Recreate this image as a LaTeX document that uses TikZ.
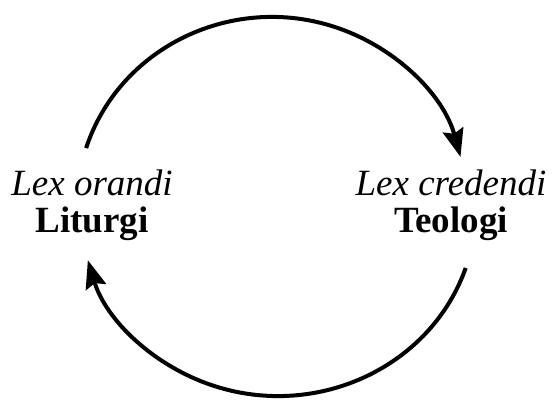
\documentclass[tikz,border=0pt]{standalone}
\usepackage{fontspec}
\setmainfont{Liberation Serif}
\usetikzlibrary{arrows.meta}
\tikzset{
  lbl/.style={align=center, inner sep=0pt, font=\fontsize{37}{37}\selectfont},
  cyc/.style={line width=4pt, -{Stealth[length=28pt, width=21pt, inset=4pt]}}
}
\begin{document}
\begin{tikzpicture}[x=1pt,y=1pt]
\useasboundingbox (0,0) rectangle (553,399);
\node[lbl] (lo) at (92,193.5) {\textit{Lex orandi}\\\textbf{Liturgi}};
\node[lbl] (lc) at (451,193.5) {\textit{Lex credendi}\\\textbf{Teologi}};
\coordinate (ts) at (86.1,250.9);
\coordinate (bs) at (465.7,131);
\draw[cyc] (ts) arc[start angle=162.4, end angle=14.8, x radius=195, y radius=188];
\draw[cyc] (bs) arc[start angle=-18.6, end angle=-163.9, x radius=198, y radius=188];
\end{tikzpicture}
\end{document}
